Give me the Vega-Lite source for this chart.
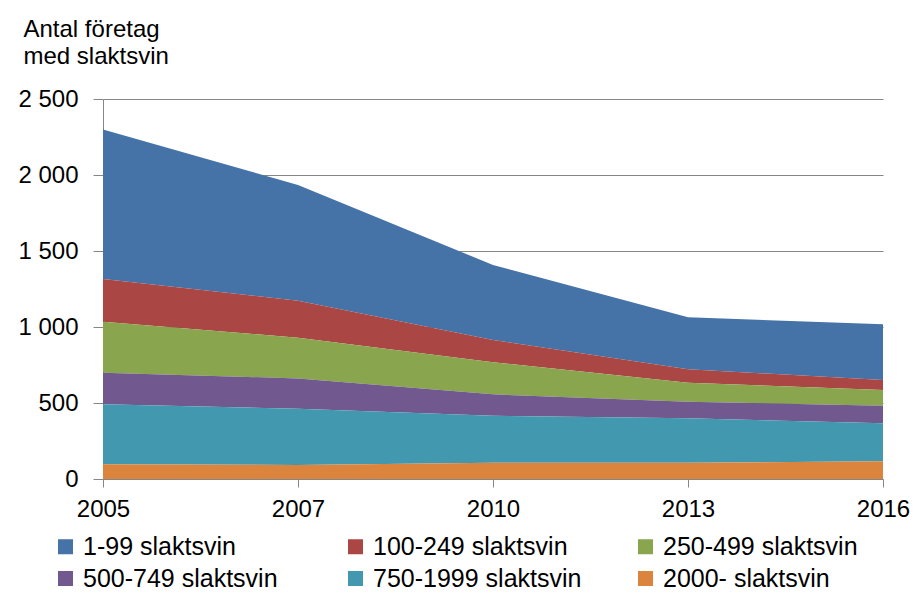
{
  "$schema": "https://vega.github.io/schema/vega-lite/v6.json",
  "width": 780,
  "height": 380,
  "autosize": "none",
  "padding": {"left": 103, "top": 99, "right": 33, "bottom": 113},
  "background": "white",
  "config": {
    "font": "Liberation Sans",
    "view": {"stroke": null},
    "axis": {"labelColor": "black", "titleColor": "black", "labelFont": "Liberation Sans", "titleFont": "Liberation Sans"},
    "legend": {"labelFont": "Liberation Sans"}
  },
  "data": {
    "values": [
      {"year": "2005", "series": "1-99 slaktsvin", "rank": 6, "value": 984},
      {"year": "2005", "series": "100-249 slaktsvin", "rank": 5, "value": 281},
      {"year": "2005", "series": "250-499 slaktsvin", "rank": 4, "value": 336},
      {"year": "2005", "series": "500-749 slaktsvin", "rank": 3, "value": 208},
      {"year": "2005", "series": "750-1999 slaktsvin", "rank": 2, "value": 394},
      {"year": "2005", "series": "2000- slaktsvin", "rank": 1, "value": 97},
      {"year": "2007", "series": "1-99 slaktsvin", "rank": 6, "value": 761},
      {"year": "2007", "series": "100-249 slaktsvin", "rank": 5, "value": 243},
      {"year": "2007", "series": "250-499 slaktsvin", "rank": 4, "value": 268},
      {"year": "2007", "series": "500-749 slaktsvin", "rank": 3, "value": 200},
      {"year": "2007", "series": "750-1999 slaktsvin", "rank": 2, "value": 370},
      {"year": "2007", "series": "2000- slaktsvin", "rank": 1, "value": 92},
      {"year": "2010", "series": "1-99 slaktsvin", "rank": 6, "value": 493},
      {"year": "2010", "series": "100-249 slaktsvin", "rank": 5, "value": 147},
      {"year": "2010", "series": "250-499 slaktsvin", "rank": 4, "value": 211},
      {"year": "2010", "series": "500-749 slaktsvin", "rank": 3, "value": 141},
      {"year": "2010", "series": "750-1999 slaktsvin", "rank": 2, "value": 309},
      {"year": "2010", "series": "2000- slaktsvin", "rank": 1, "value": 107},
      {"year": "2013", "series": "1-99 slaktsvin", "rank": 6, "value": 342},
      {"year": "2013", "series": "100-249 slaktsvin", "rank": 5, "value": 88},
      {"year": "2013", "series": "250-499 slaktsvin", "rank": 4, "value": 125},
      {"year": "2013", "series": "500-749 slaktsvin", "rank": 3, "value": 110},
      {"year": "2013", "series": "750-1999 slaktsvin", "rank": 2, "value": 292},
      {"year": "2013", "series": "2000- slaktsvin", "rank": 1, "value": 107},
      {"year": "2016", "series": "1-99 slaktsvin", "rank": 6, "value": 367},
      {"year": "2016", "series": "100-249 slaktsvin", "rank": 5, "value": 65},
      {"year": "2016", "series": "250-499 slaktsvin", "rank": 4, "value": 104},
      {"year": "2016", "series": "500-749 slaktsvin", "rank": 3, "value": 116},
      {"year": "2016", "series": "750-1999 slaktsvin", "rank": 2, "value": 250},
      {"year": "2016", "series": "2000- slaktsvin", "rank": 1, "value": 116}
    ]
  },
  "mark": {"type": "area", "interpolate": "linear"},
  "encoding": {
    "x": {
      "field": "year",
      "type": "ordinal",
      "scale": {"type": "point", "padding": 0},
      "axis": {
        "title": null,
        "labelAngle": 0,
        "labelFontSize": 24,
        "labelPadding": 10,
        "tickSize": 8,
        "tickColor": "#868686",
        "domainColor": "#868686",
        "labelFlush": false,
        "grid": false
      }
    },
    "y": {
      "field": "value",
      "type": "quantitative",
      "aggregate": "sum",
      "stack": "zero",
      "scale": {"domain": [0, 2500], "nice": false},
      "axis": {
        "values": [0, 500, 1000, 1500, 2000, 2500],
        "labelExpr": "replace(format(datum.value, ','), ',', ' ')",
        "labelFontSize": 24,
        "labelPadding": 15,
        "tickSize": 10,
        "tickColor": "#868686",
        "domainColor": "#868686",
        "gridColor": "#868686",
        "grid": true,
        "title": ["Antal företag", "med slaktsvin"],
        "titleAngle": 0,
        "titleAlign": "left",
        "titleBaseline": "alphabetic",
        "titleX": -80,
        "titleY": -63,
        "titleFontSize": 24,
        "titleFontWeight": "normal",
        "titleLineHeight": 27
      }
    },
    "color": {
      "field": "series",
      "type": "nominal",
      "scale": {
        "domain": ["1-99 slaktsvin", "100-249 slaktsvin", "250-499 slaktsvin", "500-749 slaktsvin", "750-1999 slaktsvin", "2000- slaktsvin"],
        "range": ["#4572A7", "#AA4643", "#89A54E", "#71588F", "#4198AF", "#DB843D"]
      },
      "legend": {
        "title": null,
        "orient": "none",
        "legendX": -50,
        "legendY": 435,
        "direction": "horizontal",
        "columns": 3,
        "gridAlign": "all",
        "columnPadding": 51,
        "rowPadding": 6,
        "symbolType": "square",
        "symbolSize": 225,
        "symbolStrokeWidth": 0,
        "symbolOpacity": 1,
        "labelFontSize": 25,
        "labelColor": "black",
        "labelOffset": 5,
        "labelLimit": 300
      }
    },
    "order": {"field": "rank", "type": "quantitative", "sort": "ascending"},
    "opacity": {"value": 1}
  }
}
